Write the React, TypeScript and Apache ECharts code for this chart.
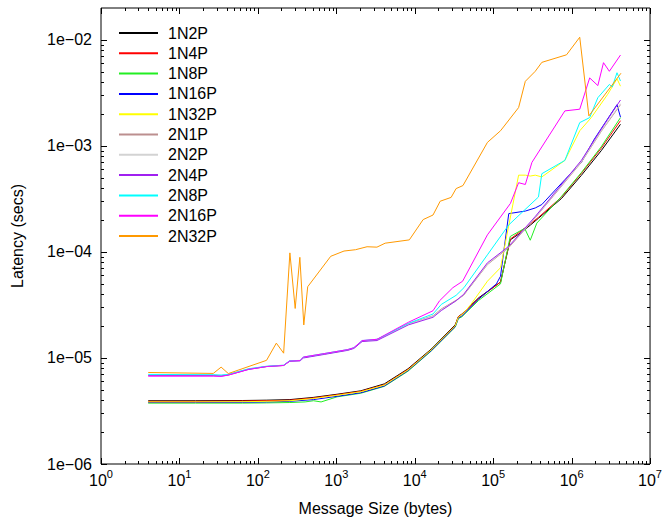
import React, { useEffect, useRef } from 'react';
import * as echarts from 'echarts';

// ---- data: [message size (bytes), latency (secs)] ----
const lat1N2P: [number, number][] = [
  [4, 3.95e-6], [16, 3.95e-6], [64, 3.97e-6], [128, 4.0e-6], [256, 4.05e-6], [512, 4.25e-6],
  [1024, 4.55e-6], [2048, 4.9e-6], [4096, 5.7e-6], [8192, 7.9e-6], [16384, 1.22e-5], [32768, 2.05e-5],
  [36000, 2.45e-5], [40000, 2.6e-5], [65536, 3.7e-5], [124000, 5.2e-5], [165000, 1.3e-4], [220000, 1.5e-4],
  [300000, 1.8e-4], [378000, 2.08e-4], [745000, 3.2e-4], [1330000, 5.27e-4], [2380000, 9.0e-4], [4200000, 1.6e-3],
];
const lat1N4P: [number, number][] = [
  [4, 3.9e-6], [16, 3.9e-6], [64, 3.93e-6], [128, 3.95e-6], [256, 4.0e-6], [512, 4.2e-6],
  [1024, 4.5e-6], [2048, 4.85e-6], [4096, 5.6e-6], [8192, 7.8e-6], [16384, 1.2e-5], [32768, 2.02e-5],
  [36000, 2.45e-5], [40000, 2.58e-5], [65536, 3.65e-5], [124000, 5.2e-5], [165000, 1.32e-4], [220000, 1.55e-4],
  [300000, 1.85e-4], [378000, 2.12e-4], [745000, 3.3e-4], [1330000, 5.5e-4], [2380000, 9.5e-4], [4200000, 1.73e-3],
];
const lat1N8P: [number, number][] = [
  [4, 3.75e-6], [16, 3.75e-6], [64, 3.75e-6], [128, 3.77e-6], [256, 3.8e-6], [400, 3.85e-6], [512, 3.95e-6],
  [640, 3.85e-6], [1024, 4.3e-6], [2048, 4.65e-6], [4096, 5.4e-6], [8192, 7.5e-6], [16384, 1.17e-5],
  [32768, 1.95e-5], [36000, 2.35e-5], [40000, 2.45e-5], [65536, 3.5e-5], [124000, 5.0e-5], [165000, 1.4e-4],
  [252000, 1.67e-4], [297000, 1.29e-4], [360000, 1.87e-4], [745000, 3.35e-4], [1330000, 5.6e-4],
  [2380000, 9.8e-4], [4200000, 1.85e-3],
];
const lat1N16P: [number, number][] = [
  [4, 3.8e-6], [16, 3.8e-6], [64, 3.82e-6], [128, 3.85e-6], [256, 3.9e-6], [512, 4.05e-6],
  [1024, 4.35e-6], [2048, 4.7e-6], [4096, 5.45e-6], [8192, 7.6e-6], [16384, 1.18e-5], [32768, 1.97e-5],
  [36000, 2.38e-5], [40000, 2.5e-5], [65536, 3.6e-5], [110000, 5.0e-5], [124000, 5.9e-5], [158000, 2.3e-4],
  [257000, 2.43e-4], [344000, 2.6e-4], [417000, 2.8e-4], [820000, 4.8e-4], [1330000, 7.0e-4],
  [1950000, 1.16e-3], [3790000, 2.45e-3], [4200000, 1.87e-3],
];
const lat1N32P: [number, number][] = [
  [4, 3.85e-6], [16, 3.85e-6], [64, 3.87e-6], [128, 3.9e-6], [256, 3.95e-6], [512, 4.15e-6],
  [1024, 4.45e-6], [2048, 4.8e-6], [4096, 5.55e-6], [8192, 7.7e-6], [16384, 1.2e-5], [32768, 2.0e-5],
  [36000, 2.42e-5], [41000, 2.6e-5], [52000, 3.2e-5], [84500, 5.3e-5], [124000, 7.1e-5], [211000, 5.3e-4],
  [257000, 5.3e-4], [297000, 5.2e-4], [344000, 5.3e-4], [417000, 5.1e-4], [820000, 7.3e-4],
  [1270000, 1.39e-3], [1780000, 1.85e-3], [2880000, 3.06e-3], [3790000, 4.3e-3], [4200000, 3.66e-3],
];
const lat2N1P: [number, number][] = [
  [4, 6.85e-6], [27, 6.85e-6], [34, 6.8e-6], [42, 6.95e-6], [76, 7.85e-6], [129, 8.3e-6], [213, 8.5e-6],
  [254, 9.35e-6], [346, 9.45e-6], [380, 1.01e-5], [702, 1.09e-5], [1400, 1.19e-5], [1676, 1.24e-5],
  [2136, 1.44e-5], [3300, 1.49e-5], [8280, 2.1e-5], [17100, 2.5e-5], [21800, 2.9e-5], [33700, 3.5e-5],
  [42000, 3.9e-5], [84500, 7.6e-5], [158000, 1.1e-4], [344000, 2.1e-4], [1330000, 7.0e-4],
  [2400000, 1.38e-3], [4200000, 2.45e-3],
];
const lat2N2P: [number, number][] = [
  [4, 6.9e-6], [27, 6.9e-6], [34, 6.85e-6], [42, 7.0e-6], [76, 7.9e-6], [129, 8.35e-6], [213, 8.55e-6],
  [254, 9.4e-6], [346, 9.5e-6], [380, 1.02e-5], [702, 1.1e-5], [1400, 1.2e-5], [1676, 1.25e-5],
  [2136, 1.45e-5], [3300, 1.5e-5], [8280, 2.08e-5], [17100, 2.48e-5], [21800, 2.85e-5], [33700, 3.45e-5],
  [42000, 3.95e-5], [84500, 7.7e-5], [158000, 1.12e-4], [344000, 2.12e-4], [1330000, 7.1e-4],
  [2400000, 1.4e-3], [4200000, 2.5e-3],
];
const lat2N4P: [number, number][] = [
  [4, 6.8e-6], [27, 6.8e-6], [34, 6.75e-6], [42, 6.9e-6], [76, 7.8e-6], [129, 8.3e-6], [213, 8.5e-6],
  [254, 9.3e-6], [346, 9.4e-6], [380, 1.0e-5], [702, 1.08e-5], [1400, 1.18e-5], [1676, 1.23e-5],
  [2136, 1.43e-5], [3300, 1.46e-5], [8280, 2.05e-5], [17100, 2.42e-5], [21800, 2.8e-5], [33700, 3.47e-5],
  [42000, 3.98e-5], [84500, 7.9e-5], [158000, 1.13e-4], [344000, 2.16e-4], [1330000, 7.3e-4],
  [2400000, 1.45e-3], [4200000, 2.71e-3],
];
const lat2N8P: [number, number][] = [
  [4, 7.0e-6], [27, 6.95e-6], [34, 6.9e-6], [42, 7.0e-6], [76, 7.9e-6], [129, 8.35e-6], [213, 8.55e-6],
  [254, 9.4e-6], [346, 9.45e-6], [380, 1.02e-5], [702, 1.1e-5], [1400, 1.2e-5], [1676, 1.25e-5],
  [2136, 1.46e-5], [3300, 1.5e-5], [8280, 2.12e-5], [17100, 2.6e-5], [21800, 3.2e-5], [33700, 3.9e-5],
  [42400, 4.6e-5], [84500, 9.4e-5], [158000, 1.8e-4], [378000, 3.3e-4], [417000, 5.47e-4], [820000, 7.3e-4],
  [1270000, 1.66e-3], [1700000, 1.85e-3], [2160000, 2.85e-3], [3030000, 3.8e-3], [3300000, 3.6e-3],
  [3790000, 4.9e-3], [4200000, 4.1e-3],
];
const lat2N16P: [number, number][] = [
  [4, 6.75e-6], [27, 6.75e-6], [34, 6.7e-6], [42, 6.9e-6], [76, 7.8e-6], [129, 8.3e-6], [213, 8.5e-6],
  [254, 9.35e-6], [346, 9.45e-6], [380, 1.02e-5], [702, 1.1e-5], [1400, 1.2e-5], [1676, 1.25e-5],
  [2136, 1.46e-5], [3300, 1.5e-5], [8280, 2.17e-5], [17100, 2.79e-5], [20700, 3.46e-5], [30600, 4.6e-5],
  [40800, 5.3e-5], [84500, 1.45e-4], [166000, 2.87e-4], [211000, 4.5e-4], [257000, 4.33e-4],
  [312000, 7.0e-4], [820000, 2.14e-3], [1270000, 2.22e-3], [1700000, 4.38e-3], [2160000, 3.71e-3],
  [2550000, 6.1e-3], [3030000, 5.06e-3], [4200000, 7.2e-3],
];
const lat2N32P: [number, number][] = [
  [4, 7.3e-6], [27, 7.15e-6], [34, 8.2e-6], [42, 7.13e-6], [129, 9.5e-6], [172, 1.38e-5], [213, 1.11e-5],
  [256, 9.8e-5], [299, 2.93e-5], [343, 8.9e-5], [385, 2.05e-5], [432, 4.7e-5], [849, 9.1e-5],
  [1254, 1.02e-4], [1757, 1.05e-4], [2466, 1.12e-4], [3296, 1.11e-4], [4198, 1.21e-4], [8531, 1.3e-4],
  [12800, 2.02e-4], [17100, 2.23e-4], [21100, 3.01e-4], [29100, 3.27e-4], [33700, 3.96e-4],
  [41200, 4.23e-4], [84500, 1.08e-3], [124000, 1.39e-3], [211000, 2.3e-3], [257000, 4.07e-3],
  [344000, 5.06e-3], [417000, 6.14e-3], [862000, 7.24e-3], [1270000, 1.06e-2], [1660000, 1.92e-3],
  [4260000, 4.85e-3],
];

const seriesNames = ['1N2P', '1N4P', '1N8P', '1N16P', '1N32P', '2N1P', '2N2P', '2N4P', '2N8P', '2N16P', '2N32P'];
const seriesData = [lat1N2P, lat1N4P, lat1N8P, lat1N16P, lat1N32P, lat2N1P, lat2N2P, lat2N4P, lat2N8P, lat2N16P, lat2N32P];
const seriesColors = ['#000000', '#ff0000', '#22ee22', '#0000ff', '#ffff00', '#bc8f8f', '#d3d3d3', '#a020f0', '#00ffff', '#ff00ff', '#ff9900'];

const X_MIN = 1;
const X_MAX = 1e7;
const Y_MIN = 1e-6;
const Y_MAX = 0.02;
const X_DECADES = [0, 1, 2, 3, 4, 5, 6];
const Y_DECADES = [-6, -5, -4, -3, -2];

const FONT = '"Liberation Sans", Arial, Helvetica, sans-serif';

function buildTicks() {
  const ticks: number[][] = [];
  for (const n of X_DECADES) {
    for (let k = 1; k <= 9; k++) ticks.push([k * Math.pow(10, n), Y_MIN, 0, k === 1 ? 1 : 0]);
  }
  ticks.push([X_MAX, Y_MIN, 0, 1]);
  for (const n of Y_DECADES) {
    for (let k = 1; k <= 9; k++) {
      const v = k * Math.pow(10, n);
      if (v < Y_MAX * 0.999) ticks.push([X_MIN, v, 1, k === 1 ? 1 : 0]);
    }
  }
  return ticks;
}

function isPow10(v: number) {
  const e = Math.log10(v);
  return Math.abs(e - Math.round(e)) < 1e-6;
}

export default function App() {
  const ref = useRef<HTMLDivElement>(null);
  useEffect(() => {
    if (!ref.current) return;
    const chart = echarts.init(ref.current, undefined, { renderer: 'svg' });
    const lineSeries = seriesNames.map((name, i) => ({
      name,
      type: 'line',
      data: seriesData[i],
      symbol: 'none',
      showSymbol: false,
      color: seriesColors[i],
      lineStyle: { width: 1, color: seriesColors[i] },
      silent: true,
      z: 2,
    }));
    const tickSeries = {
      type: 'custom',
      silent: true,
      clip: false,
      z: 5,
      data: buildTicks(),
      renderItem: (params: any, api: any) => {
        const cs = params.coordSys;
        const orient = api.value(2);
        const len = api.value(3) ? 6 : 3;
        const style = { stroke: '#000', lineWidth: 1 };
        if (orient === 0) {
          const px = Math.round(api.coord([api.value(0), Y_MIN])[0]) + 0.5;
          const top = cs.y;
          const bottom = cs.y + cs.height;
          return {
            type: 'group',
            children: [
              { type: 'line', shape: { x1: px, y1: bottom, x2: px, y2: bottom - len }, style },
              { type: 'line', shape: { x1: px, y1: top, x2: px, y2: top + len }, style },
            ],
          };
        }
        const py = Math.round(api.coord([X_MIN, api.value(1)])[1]) + 0.5;
        const left = cs.x;
        const right = cs.x + cs.width;
        return {
          type: 'group',
          children: [
            { type: 'line', shape: { x1: left, y1: py, x2: left + len, y2: py }, style },
            { type: 'line', shape: { x1: right, y1: py, x2: right - len, y2: py }, style },
          ],
        };
      },
    };
    chart.setOption({
      animation: false,
      backgroundColor: '#ffffff',
      textStyle: { fontFamily: FONT },
      grid: {
        left: 101,
        top: 8,
        width: 555,
        height: 460,
        show: true,
        borderColor: '#000',
        borderWidth: 1,
        backgroundColor: 'transparent',
        containLabel: false,
      },
      legend: {
        orient: 'vertical',
        left: 114,
        top: 19,
        icon: 'rect',
        itemWidth: 39,
        itemHeight: 2,
        itemGap: 2.3,
        selectedMode: false,
        data: seriesNames,
        textStyle: { fontFamily: FONT, fontSize: 16, color: '#000', lineHeight: 18, padding: [0, 0, 0, 5] },
      },
      xAxis: {
        type: 'log',
        logBase: 10,
        min: X_MIN,
        max: X_MAX,
        splitNumber: 7,
        name: 'Message Size (bytes)',
        nameLocation: 'middle',
        nameGap: 36,
        nameTextStyle: { fontFamily: FONT, fontSize: 16, color: '#000' },
        axisLine: { show: false },
        axisTick: { show: false },
        splitLine: { show: false },
        minorTick: { show: false },
        axisLabel: {
          interval: 0,
          margin: 4,
          hideOverlap: false,
          showMinLabel: true,
          showMaxLabel: true,
          color: '#000',
          formatter: (v: number) => (isPow10(v) ? `{b|10}{s|${Math.round(Math.log10(v))}}` : ''),
          rich: {
            b: { fontFamily: FONT, fontSize: 16, color: '#000', verticalAlign: 'bottom' },
            s: { fontFamily: FONT, fontSize: 11, color: '#000', verticalAlign: 'bottom', padding: [0, 0, 9, 0] },
          },
        },
      },
      yAxis: {
        type: 'log',
        logBase: 10,
        min: Y_MIN,
        max: Y_MAX,
        splitNumber: 4,
        name: 'Latency (secs)',
        nameLocation: 'middle',
        nameGap: 76,
        nameTextStyle: { fontFamily: FONT, fontSize: 16, color: '#000' },
        axisLine: { show: false },
        axisTick: { show: false },
        splitLine: { show: false },
        minorTick: { show: false },
        axisLabel: {
          margin: 9,
          color: '#000',
          fontFamily: FONT,
          fontSize: 16,
          showMinLabel: true,
          showMaxLabel: true,
          formatter: (v: number) => {
            if (!isPow10(v)) return '';
            const e = Math.round(Math.log10(v));
            return '1e\u2212' + String(-e).padStart(2, '0');
          },
        },
      },
      series: [...lineSeries, tickSeries],
    });
    return () => chart.dispose();
  }, []);
  return <div ref={ref} style={{ position: 'fixed', left: 0, top: 0, width: 665, height: 521, background: '#fff' }} />;
}
